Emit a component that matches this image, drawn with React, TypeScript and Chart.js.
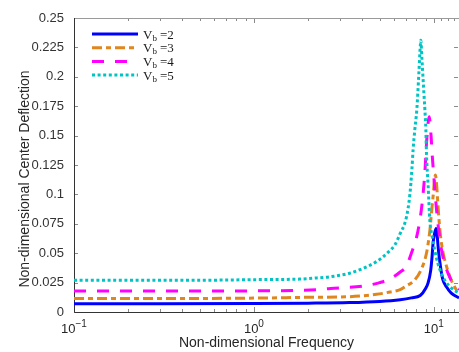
import React, { useEffect, useRef } from 'react';
import { Chart, registerables } from 'chart.js';

Chart.register(...registerables);

// ---- Data ----
const seriesNames = ['2', '3', '4', '5'];

const freqB = [0.1, 0.3, 1, 2, 3.4, 5, 6.5, 7.5, 8.4, 9.0, 9.3, 9.6, 9.75, 9.91, 10.1, 10.3, 10.45, 10.6, 10.9, 11.2, 11.8, 12.5, 13.8];
const valB = [0.007, 0.007, 0.0072, 0.0075, 0.008, 0.009, 0.0105, 0.012, 0.014, 0.020, 0.025, 0.035, 0.045, 0.059, 0.067, 0.071, 0.064, 0.053, 0.038, 0.028, 0.021, 0.016, 0.012];

const freqO = [0.1, 0.3, 1, 2, 3.4, 4.8, 5.7, 6.5, 7.0, 7.8, 8.5, 9.1, 9.5, 9.7, 9.9, 10.2, 10.4, 10.55, 10.8, 11.2, 11.7, 12.5, 13.2, 13.8];
const valO = [0.0115, 0.0115, 0.0118, 0.0125, 0.013, 0.015, 0.017, 0.019, 0.022, 0.027, 0.036, 0.050, 0.069, 0.084, 0.098, 0.1165, 0.105, 0.090, 0.070, 0.052, 0.040, 0.027, 0.020, 0.016];

const freqM = [0.1, 0.3, 1, 2.24, 2.66, 4.03, 5.0, 5.7, 6.5, 7.05, 7.5, 8.0, 8.3, 8.6, 8.9, 9.15, 9.42, 9.65, 9.78, 10.0, 10.13, 10.35, 10.6, 11.0, 11.5, 12.3, 13.2, 13.8];
const valM = [0.0178, 0.0178, 0.018, 0.019, 0.020, 0.022, 0.025, 0.028, 0.034, 0.039, 0.050, 0.063, 0.075, 0.092, 0.117, 0.148, 0.166, 0.150, 0.135, 0.115, 0.104, 0.087, 0.072, 0.054, 0.041, 0.029, 0.0215, 0.019];

const freqC = [0.1, 0.5, 1, 1.8, 2.24, 2.66, 3.41, 4.03, 4.82, 5.5, 6.07, 6.47, 7.05, 7.36, 7.55, 7.67, 7.84, 8.05, 8.25, 8.4, 8.47, 8.58, 8.8, 8.91, 9.03, 9.1, 9.3, 9.5, 9.8, 10.13, 10.5, 11.0, 11.5, 12.6, 13.8];
const valC = [0.027, 0.027, 0.0275, 0.028, 0.029, 0.030, 0.033, 0.037, 0.043, 0.050, 0.057, 0.066, 0.081, 0.100, 0.121, 0.138, 0.155, 0.173, 0.202, 0.225, 0.231, 0.216, 0.187, 0.173, 0.155, 0.135, 0.107, 0.078, 0.064, 0.052, 0.042, 0.033, 0.027, 0.020, 0.016];

const xMin = 0.1;
const xMax = 13.8;
const xTickValues = [0.1, 1, 10];
const xTickExponents = ['\u22121', '0', '1'];
const xMinorTicks = [0.2, 0.3, 0.4, 0.5, 0.6, 0.7, 0.8, 0.9, 2, 3, 4, 5, 6, 7, 8, 9, 11, 12, 13];
const yTickValues = [0, 0.025, 0.05, 0.075, 0.1, 0.125, 0.15, 0.175, 0.2, 0.225, 0.25];
const yTickLabels = ['0', '0.025', '0.05', '0.075', '0.1', '0.125', '0.15', '0.175', '0.2', '0.225', '0.25'];

const xTitle = 'Non-dimensional Frequency';
const yTitle = 'Non-dimensional Center Deflection';

const SANS = '"Liberation Sans", Arial, sans-serif';
const SERIF = '"Liberation Serif", "Times New Roman", serif';

const toPoints = (xs: number[], ys: number[]) => xs.map((x, i) => ({ x, y: ys[i] }));

const framePlugin = {
  id: 'frame',
  beforeDatasetsDraw(chart: any) {
    const { ctx, chartArea: a, scales } = chart;
    const x = scales.x;
    const y = scales.y;
    ctx.save();
    ctx.lineWidth = 1;
    ctx.strokeStyle = '#8a8a8a';
    ctx.beginPath();
    for (const v of xTickValues) {
      const px = Math.round(x.getPixelForValue(v)) + 0.5;
      ctx.moveTo(px, a.bottom); ctx.lineTo(px, a.bottom - 5);
      ctx.moveTo(px, a.top); ctx.lineTo(px, a.top + 5);
    }
    for (const v of xMinorTicks) {
      const px = Math.round(x.getPixelForValue(v)) + 0.5;
      ctx.moveTo(px, a.bottom); ctx.lineTo(px, a.bottom - 3);
      ctx.moveTo(px, a.top); ctx.lineTo(px, a.top + 3);
    }
    for (const v of yTickValues) {
      const py = Math.round(y.getPixelForValue(v)) + 0.5;
      ctx.moveTo(a.left, py); ctx.lineTo(a.left + 4, py);
      ctx.moveTo(a.right - 1, py); ctx.lineTo(a.right - 5, py);
    }
    ctx.stroke();
    // top / right light border
    ctx.strokeStyle = '#9a9a9a';
    ctx.beginPath();
    ctx.moveTo(a.left, Math.round(a.top) + 0.5);
    ctx.lineTo(a.right, Math.round(a.top) + 0.5);
    ctx.stroke();
    // left / bottom dark axes
    ctx.strokeStyle = '#333333';
    ctx.beginPath();
    ctx.moveTo(Math.round(a.left) + 0.5, a.top);
    ctx.lineTo(Math.round(a.left) + 0.5, Math.round(a.bottom) + 0.5);
    ctx.lineTo(a.right, Math.round(a.bottom) + 0.5);
    ctx.stroke();
    ctx.restore();
  },
  afterDraw(chart: any) {
    const { ctx, chartArea: a, scales } = chart;
    const x = scales.x;
    ctx.save();
    ctx.fillStyle = '#262626';
    // x tick labels with superscript exponents
    ctx.textBaseline = 'alphabetic';
    ctx.textAlign = 'left';
    xTickValues.forEach((v, i) => {
      const px = x.getPixelForValue(v);
      ctx.font = `13px ${SANS}`;
      const w1 = ctx.measureText('10').width;
      ctx.font = `10px ${SANS}`;
      const w2 = ctx.measureText(xTickExponents[i]).width;
      const start = px - (w1 + w2) / 2;
      ctx.font = `13px ${SANS}`;
      ctx.fillText('10', start, a.bottom + 21);
      ctx.font = `10px ${SANS}`;
      ctx.fillText(xTickExponents[i], start + w1, a.bottom + 15);
    });
    // x title
    ctx.font = `14px ${SANS}`;
    ctx.textAlign = 'center';
    ctx.fillText(xTitle, (a.left + a.right) / 2, a.bottom + 35);
    // y title
    ctx.save();
    ctx.translate(29, 179);
    ctx.rotate(-Math.PI / 2);
    ctx.font = `14px ${SANS}`;
    ctx.textAlign = 'center';
    ctx.fillText(yTitle, 0, 0);
    ctx.restore();

    // legend
    const x0 = a.left + 18;
    const lineLen = 46;
    chart.data.datasets.forEach((ds: any, i: number) => {
      const ry = a.top + 16 + i * 13.7;
      ctx.save();
      ctx.strokeStyle = ds.borderColor;
      ctx.lineWidth = ds.borderWidth;
      ctx.setLineDash(ds.borderDash || []);
      ctx.beginPath();
      ctx.moveTo(x0, ry);
      ctx.lineTo(x0 + lineLen, ry);
      ctx.stroke();
      ctx.restore();
      let tx = x0 + lineLen + 5;
      ctx.textAlign = 'left';
      ctx.textBaseline = 'alphabetic';
      ctx.fillStyle = '#1a1a1a';
      ctx.font = `13px ${SERIF}`;
      ctx.fillText('V', tx, ry + 4.5);
      tx += ctx.measureText('V').width;
      ctx.font = `9px ${SERIF}`;
      ctx.fillText('b', tx, ry + 6.5);
      tx += ctx.measureText('b').width + 3;
      ctx.font = `13px ${SERIF}`;
      ctx.fillText('=' + seriesNames[i], tx, ry + 4.5);
    });
    ctx.restore();
  },
};

export default function App() {
  const ref = useRef<HTMLCanvasElement | null>(null);
  useEffect(() => {
    if (!ref.current) return;
    const common = { pointRadius: 0, fill: false, cubicInterpolationMode: 'monotone' as const, borderCapStyle: 'butt' as const };
    const chart = new Chart(ref.current, {
      type: 'line',
      data: {
        datasets: [
          { ...common, label: 'Vb=2', data: toPoints(freqB, valB), borderColor: '#0000ff', borderWidth: 3, borderDash: [], order: 3 },
          { ...common, label: 'Vb=3', data: toPoints(freqO, valO), borderColor: '#e0861c', borderWidth: 3, borderDash: [10, 4, 5, 4], order: 2 },
          { ...common, label: 'Vb=4', data: toPoints(freqM, valM), borderColor: '#ff00ff', borderWidth: 3, borderDash: [12, 11], order: 1 },
          { ...common, label: 'Vb=5', data: toPoints(freqC, valC), borderColor: '#00c4c4', borderWidth: 3, borderDash: [3, 2.6], order: 0 },
        ],
      },
      options: {
        responsive: false,
        animation: false,
        devicePixelRatio: 1,
        layout: { padding: { top: 18, left: 0, right: 0, bottom: 0 } },
        plugins: { legend: { display: false }, tooltip: { enabled: false } },
        scales: {
          x: {
            type: 'logarithmic',
            min: xMin,
            max: xMax,
            afterBuildTicks: (s: any) => { s.ticks = xTickValues.map((v) => ({ value: v })); },
            ticks: { display: false },
            grid: { display: false, drawTicks: false },
            border: { display: false },
            afterFit: (s: any) => { s.height = 40; },
          },
          y: {
            type: 'linear',
            min: 0,
            max: 0.25,
            afterBuildTicks: (s: any) => { s.ticks = yTickValues.map((v) => ({ value: v })); },
            ticks: {
              callback: (_v: any, i: number) => yTickLabels[i],
              padding: 10,
              color: '#333333',
              font: { family: SANS, size: 13 },
            },
            grid: { display: false, drawTicks: false },
            border: { display: false },
            afterFit: (s: any) => { s.width = 74; },
          },
        },
      },
      plugins: [framePlugin],
    });
    return () => chart.destroy();
  }, []);
  return (
    <div style={{ position: 'fixed', left: 0, top: 0, width: 459, height: 352, background: '#fff' }}>
      <canvas ref={ref} width={459} height={352} />
    </div>
  );
}
